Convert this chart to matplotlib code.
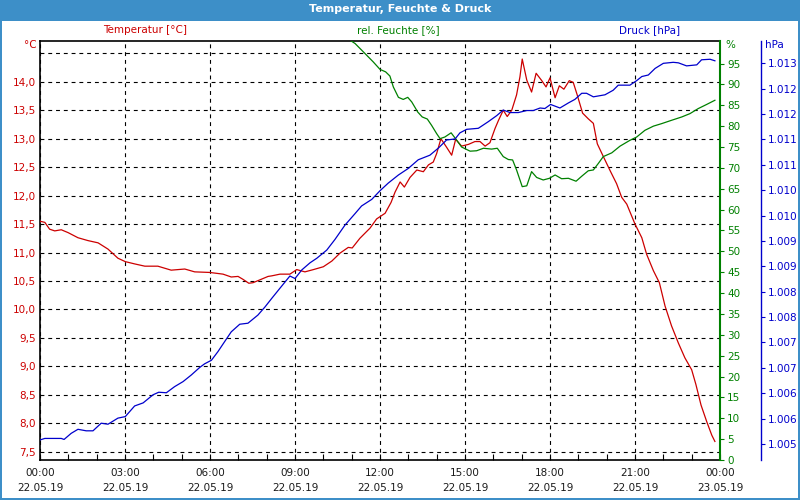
import math
import numpy as np
import matplotlib
matplotlib.use("Agg")
import matplotlib.pyplot as plt
from matplotlib.patches import Rectangle
from matplotlib.ticker import FixedLocator, FuncFormatter, MultipleLocator

# ---------------- data (hours since 22.05.19 00:00) ----------------
temp_hours = [0.0, 0.17, 0.34, 0.52, 0.75, 0.99, 1.34, 1.69, 2.05, 2.40, 2.75, 3.01, 3.34, 3.70,
              4.16, 4.63, 5.11, 5.46, 5.99, 6.46, 6.75, 6.99, 7.16, 7.37, 7.52, 7.81, 8.05, 8.18,
              8.47, 8.82, 9.06, 9.35, 9.65, 10.00, 10.30, 10.59, 10.88, 11.02, 11.29, 11.65, 11.88,
              12.18, 12.39, 12.53, 12.71, 12.86, 13.06, 13.30, 13.53, 13.71, 13.88, 14.00, 14.15,
              14.35, 14.53, 14.67, 14.88, 15.12, 15.35, 15.53, 15.71, 15.88, 16.06, 16.18, 16.35,
              16.49, 16.65, 16.82, 16.94, 17.02, 17.18, 17.35, 17.51, 17.71, 17.86, 18.00, 18.18,
              18.33, 18.49, 18.68, 18.82, 18.96, 19.15, 19.35, 19.53, 19.67, 19.86, 20.12, 20.35,
              20.53, 20.71, 21.00, 21.24, 21.41, 21.65, 21.86, 22.06, 22.29, 22.53, 22.76, 23.00,
              23.15, 23.33, 23.53, 23.71, 23.82]
temp_values = [11.55, 11.53, 11.41, 11.38, 11.40, 11.35, 11.26, 11.21, 11.17, 11.06, 10.90, 10.84,
               10.80, 10.76, 10.76, 10.69, 10.71, 10.66, 10.65, 10.62, 10.57, 10.58, 10.53, 10.46,
               10.47, 10.53, 10.58, 10.59, 10.62, 10.62, 10.70, 10.66, 10.70, 10.75, 10.85, 10.99,
               11.09, 11.08, 11.25, 11.43, 11.59, 11.69, 11.88, 12.06, 12.24, 12.15, 12.32, 12.45,
               12.42, 12.54, 12.59, 12.74, 13.00, 12.85, 12.71, 12.99, 12.87, 12.90, 12.95, 12.95,
               12.87, 12.93, 13.18, 13.32, 13.50, 13.39, 13.50, 13.77, 14.09, 14.40, 14.03, 13.82,
               14.15, 14.02, 13.91, 14.07, 13.72, 13.93, 13.87, 14.02, 13.99, 13.77, 13.45, 13.35,
               13.27, 12.91, 12.71, 12.44, 12.21, 11.97, 11.85, 11.50, 11.26, 10.97, 10.68, 10.47,
               10.06, 9.71, 9.41, 9.15, 8.94, 8.68, 8.32, 8.03, 7.79, 7.68]

hum_hours = [10.80, 10.94, 11.12, 11.47, 11.76, 12.00, 12.20, 12.35, 12.47, 12.65, 12.82, 12.98,
             13.12, 13.33, 13.49, 13.67, 13.82, 14.00, 14.12, 14.29, 14.51, 14.71, 14.88, 15.18,
             15.41, 15.65, 15.94, 16.14, 16.35, 16.53, 16.68, 16.82, 17.02, 17.18, 17.35, 17.53,
             17.76, 17.98, 18.18, 18.41, 18.65, 18.92, 19.12, 19.35, 19.53, 19.71, 19.88, 20.18,
             20.47, 20.82, 21.06, 21.35, 21.65, 21.94, 22.29, 22.65, 22.94, 23.23, 23.53, 23.82]
hum_values = [101.5, 100.6, 99.8, 97.4, 95.4, 93.6, 93.0, 92.0, 89.4, 86.9, 86.4, 86.9, 85.8, 83.4,
              82.2, 81.7, 80.2, 78.2, 77.0, 77.4, 78.4, 76.6, 75.0, 74.0, 74.1, 74.7, 74.5, 74.7,
              72.7, 72.0, 71.9, 69.5, 65.5, 65.7, 69.1, 67.7, 67.1, 67.5, 68.3, 67.4, 67.5, 66.8,
              68.0, 69.3, 69.5, 71.1, 72.7, 73.6, 75.2, 76.6, 77.4, 79.0, 80.0, 80.6, 81.4, 82.2,
              83.0, 84.2, 85.2, 86.2]

press_hours = [0.0, 0.17, 0.75, 0.85, 1.10, 1.34, 1.63, 1.87, 2.16, 2.40, 2.75, 3.01, 3.34, 3.64,
               3.99, 4.19, 4.46, 4.75, 5.05, 5.34, 5.64, 5.81, 6.05, 6.28, 6.52, 6.75, 7.05, 7.34,
               7.69, 7.94, 8.18, 8.47, 8.82, 9.00, 9.24, 9.53, 9.77, 10.12, 10.41, 10.76, 11.12,
               11.35, 11.71, 12.00, 12.29, 12.65, 13.00, 13.35, 13.76, 14.06, 14.35, 14.65, 14.82,
               15.06, 15.47, 15.82, 16.12, 16.35, 16.59, 16.88, 17.18, 17.41, 17.65, 17.82, 18.02,
               18.35, 18.65, 18.88, 19.12, 19.29, 19.53, 19.94, 20.23, 20.41, 20.82, 21.06, 21.24,
               21.47, 21.71, 22.00, 22.35, 22.53, 22.82, 23.18, 23.35, 23.65, 23.82]
press_values = [1005.08, 1005.11, 1005.11, 1005.09, 1005.21, 1005.29, 1005.26, 1005.26, 1005.41,
                1005.39, 1005.51, 1005.54, 1005.75, 1005.81, 1005.97, 1006.02, 1006.01, 1006.13,
                1006.23, 1006.36, 1006.51, 1006.58, 1006.65, 1006.82, 1007.02, 1007.21, 1007.36,
                1007.38, 1007.54, 1007.70, 1007.87, 1008.07, 1008.31, 1008.26, 1008.43, 1008.57,
                1008.66, 1008.82, 1009.03, 1009.31, 1009.54, 1009.69, 1009.82, 1009.99, 1010.14,
                1010.30, 1010.43, 1010.60, 1010.69, 1010.83, 1010.99, 1011.01, 1011.13, 1011.20,
                1011.22, 1011.35, 1011.47, 1011.58, 1011.53, 1011.53, 1011.57, 1011.57, 1011.62,
                1011.61, 1011.69, 1011.62, 1011.72, 1011.79, 1011.91, 1011.91, 1011.84, 1011.88,
                1011.97, 1012.07, 1012.07, 1012.16, 1012.24, 1012.27, 1012.40, 1012.50, 1012.52,
                1012.51, 1012.45, 1012.47, 1012.57, 1012.58, 1012.55]

x_tick_hours = [0, 3, 6, 9, 12, 15, 18, 21, 24]
x_tick_labels = ["00:00\n22.05.19", "03:00\n22.05.19", "06:00\n22.05.19", "09:00\n22.05.19",
                 "12:00\n22.05.19", "15:00\n22.05.19", "18:00\n22.05.19", "21:00\n22.05.19",
                 "00:00\n23.05.19"]

title = "Temperatur, Feuchte & Druck"
label_temp = "Temperatur [°C]"
label_hum = "rel. Feuchte [%]"
label_press = "Druck [hPa]"

# ---------------- styling ----------------
RED = "#cc0000"
GREEN = "#008000"
BLUE = "#0000cc"
FRAME = "#3d8fc8"
FS = 7.5
plt.rcParams["font.family"] = ["DejaVu Sans"]

W, H = 800, 500
fig = plt.figure(figsize=(8, 5), dpi=100)
fig.patch.set_facecolor(FRAME)
fig.add_artist(Rectangle((2 / W, 2 / H), (W - 4) / W, (H - 2 - 21) / H,
                         transform=fig.transFigure, facecolor="white", edgecolor="none", zorder=0))
fig.text(0.5, 1 - 9 / H, title, color="white", fontsize=8, fontweight="bold",
         ha="center", va="center")

L, R, T, B = 40, 720, 41, 460
ax = fig.add_axes([L / W, 1 - B / H, (R - L) / W, (B - T) / H])
ax.set_facecolor("none")
ax2 = ax.twinx()
ax3 = ax.twinx()

# temperature axis
ax.set_xlim(0, 24)
ax.set_ylim(7.354, 14.717)
ax.plot(temp_hours, temp_values, color=RED, lw=0.9, zorder=3)
yt = np.arange(7.5, 14.51, 0.5)
ax.yaxis.set_major_locator(FixedLocator(yt))
ax.set_yticklabels([("%.1f" % v).replace(".", ",") if v < 14.4 else "" for v in yt])
ax.tick_params(axis="y", length=0, pad=3, labelcolor=RED, labelsize=FS)
ax.xaxis.set_major_locator(FixedLocator(x_tick_hours))
ax.set_xticklabels(x_tick_labels, linespacing=1.55)
ax.xaxis.set_minor_locator(MultipleLocator(1))
ax.tick_params(axis="x", which="both", direction="in", length=4, width=0.8,
               labelsize=FS, labelcolor="#1a1a1a", pad=6)
ax.grid(True, which="major", color="black", linestyle=(0, (3.5, 3.5)), linewidth=0.8)
for s in ["left", "bottom", "top"]:
    ax.spines[s].set_color("black")
    ax.spines[s].set_linewidth(1.2)
ax.spines["right"].set_visible(False)

# humidity axis
ax2.set_ylim(0, 100.4)
ax2.plot(hum_hours, hum_values, color=GREEN, lw=0.9, zorder=3)
ax2.yaxis.set_major_locator(FixedLocator(np.arange(0, 96, 5)))
ax2.yaxis.set_major_formatter(FuncFormatter(lambda v, p: "%d" % round(v)))
ax2.tick_params(axis="y", direction="out", length=3, width=0.8, color=GREEN,
                labelcolor=GREEN, labelsize=FS, pad=2)
ax2.spines["right"].set_color(GREEN)
ax2.spines["right"].set_linewidth(1.5)
for s in ["left", "bottom", "top"]:
    ax2.spines[s].set_visible(False)

# pressure axis
ax3.set_ylim(1004.685, 1012.94)
ax3.plot(press_hours, press_values, color=BLUE, lw=0.9, zorder=3)
ax3.spines["right"].set_position(("axes", (761 - L) / (R - L)))
ax3.spines["right"].set_color(BLUE)
ax3.spines["right"].set_linewidth(1.0)
for s in ["left", "bottom", "top"]:
    ax3.spines[s].set_visible(False)
ax3.yaxis.set_major_locator(FixedLocator(np.arange(1005.0, 1012.51, 0.5)))


def hpa_fmt(v, p):
    n = int(math.floor(v + 0.5))
    return "%d.%03d" % (n // 1000, n % 1000)


ax3.yaxis.set_major_formatter(FuncFormatter(hpa_fmt))
ax3.tick_params(axis="y", direction="out", length=3, width=0.8, color=BLUE,
                labelcolor=BLUE, labelsize=FS, pad=2)

# unit labels and header labels
fig.text(37 / W, 1 - 45 / H, "°C", color=RED, fontsize=FS, ha="right", va="center")
fig.text(725 / W, 1 - 45 / H, "%", color=GREEN, fontsize=FS, ha="left", va="center")
fig.text(765 / W, 1 - 45 / H, "hPa", color=BLUE, fontsize=FS, ha="left", va="center")
fig.text(145 / W, 1 - 30 / H, label_temp, color=RED, fontsize=FS, ha="center", va="center")
fig.text(398 / W, 1 - 30 / H, label_hum, color=GREEN, fontsize=FS, ha="center", va="center")
fig.text(650 / W, 1 - 30 / H, label_press, color=BLUE, fontsize=FS, ha="center", va="center")

fig.savefig("out.png", dpi=100, facecolor=fig.get_facecolor())
